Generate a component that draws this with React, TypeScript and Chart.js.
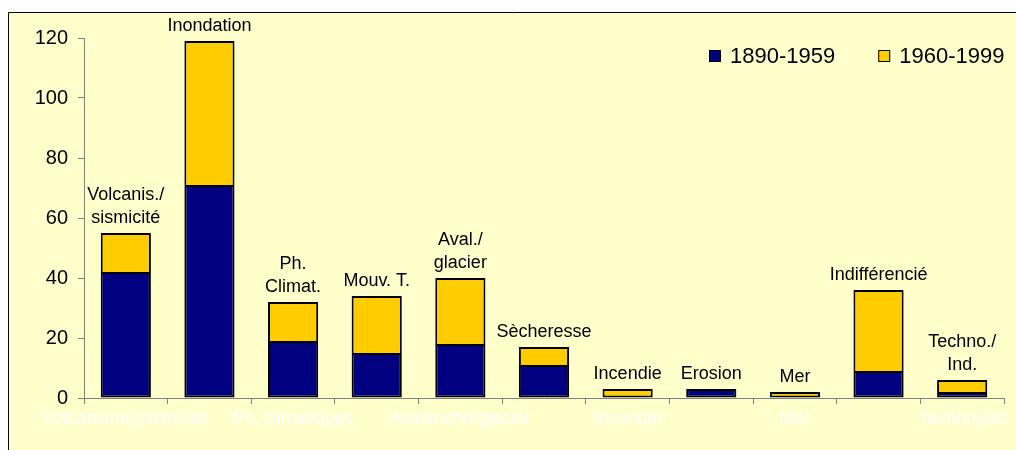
import React, { useEffect, useRef } from "react";
import { Chart, registerables } from "chart.js";

Chart.register(...registerables);

const categories = [
  "Volcanisme/sismicité",
  "Inondation",
  "Ph. climatiques",
  "Mouvements de terrain",
  "Avalanche/glacier",
  "Sècheresse",
  "Incendie",
  "Erosion",
  "Mer",
  "Indifférencié",
  "Techno/Ind",
];

const barLabels = [
  ["Volcanis./", "sismicité"],
  ["Inondation"],
  ["Ph.", "Climat."],
  ["Mouv. T."],
  ["Aval./", "glacier"],
  ["Sècheresse"],
  ["Incendie"],
  ["Erosion"],
  ["Mer"],
  ["Indifférencié"],
  ["Techno./", "Ind."],
];

const seriesNames = ["1890-1959", "1960-1999"];
const values1890 = [42, 71, 19, 15, 18, 11, 0, 3, 0, 9, 2];
const values1960 = [13, 48, 13, 19, 22, 6, 3, 0, 2, 27, 4];
const yTicks = [0, 20, 40, 60, 80, 100, 120];

const BLUE = "#000080";
const YELLOW = "#FFCC00";
const FONT = "Arial, 'Liberation Sans', sans-serif";

export default function App() {
  const ref = useRef<HTMLCanvasElement | null>(null);

  useEffect(() => {
    if (!ref.current) return;
    document.body.style.overflow = "hidden";

    const background = {
      id: "bg",
      beforeDraw(chart: any) {
        const { ctx, width, height } = chart;
        ctx.save();
        ctx.fillStyle = "#FFFFFF";
        ctx.fillRect(0, 0, width, height);
        ctx.fillStyle = "#FFFFCC";
        ctx.fillRect(8, 12, width - 8, height - 12);
        ctx.strokeStyle = "#000000";
        ctx.lineWidth = 1;
        ctx.beginPath();
        ctx.moveTo(8.5, height);
        ctx.lineTo(8.5, 12.5);
        ctx.lineTo(width, 12.5);
        ctx.stroke();
        ctx.restore();
      },
    };

    const labelsAbove = {
      id: "labelsAbove",
      afterDatasetsDraw(chart: any) {
        const { ctx } = chart;
        const y = chart.scales.y;
        const meta0 = chart.getDatasetMeta(0);
        ctx.save();
        ctx.fillStyle = "#000000";
        ctx.font = `18px ${FONT}`;
        ctx.textAlign = "center";
        ctx.textBaseline = "alphabetic";
        barLabels.forEach((lines, i) => {
          const total = values1890[i] + values1960[i];
          const x = meta0.data[i].x;
          const top = y.getPixelForValue(total);
          let base = top - 10;
          for (let k = lines.length - 1; k >= 0; k--) {
            ctx.fillText(lines[k], x, base);
            base -= 23;
          }
        });
        ctx.restore();
      },
    };

    const legendPlugin = {
      id: "customLegend",
      afterDraw(chart: any) {
        const { ctx, chartArea } = chart;
        ctx.save();
        ctx.font = `22px ${FONT}`;
        ctx.textBaseline = "alphabetic";
        ctx.textAlign = "left";
        const colors = [BLUE, YELLOW];
        const box = 12;
        const gapText = 9;
        const gapItem = 43;
        const widths = seriesNames.map((s) => ctx.measureText(s).width);
        let total = 0;
        widths.forEach((w, i) => {
          total += box + gapText + w + (i < widths.length - 1 ? gapItem : 0);
        });
        let x = Math.round(chartArea.right - total);
        const baseline = 63;
        seriesNames.forEach((s, i) => {
          ctx.fillStyle = colors[i];
          ctx.fillRect(x, 50, box, box);
          ctx.strokeStyle = "#000000";
          ctx.lineWidth = 1;
          ctx.strokeRect(x + 0.5, 50.5, box - 1, box - 1);
          ctx.fillStyle = "#000000";
          ctx.fillText(s, x + box + gapText, baseline);
          x += box + gapText + widths[i] + gapItem;
        });
        ctx.restore();
      },
    };

    const chart = new Chart(ref.current, {
      type: "bar",
      data: {
        labels: categories,
        datasets: [
          {
            label: seriesNames[0],
            data: values1890,
            backgroundColor: BLUE,
            borderColor: "#000000",
            borderWidth: 2,
            borderSkipped: false,
            barPercentage: 0.6,
            categoryPercentage: 1,
          },
          {
            label: seriesNames[1],
            data: values1960,
            backgroundColor: YELLOW,
            borderColor: "#000000",
            borderWidth: (c: any) => ({
              top: 2,
              left: 2,
              right: 2,
              bottom: values1890[c.dataIndex] > 0 ? 0 : 2,
            }),
            borderSkipped: false,
            barPercentage: 0.6,
            categoryPercentage: 1,
          },
        ],
      },
      options: {
        animation: false,
        responsive: false,
        devicePixelRatio: 1,
        layout: { padding: { top: 38, right: 12, left: 0, bottom: 0 } },
        plugins: {
          legend: { display: false },
          tooltip: { enabled: false },
        },
        scales: {
          x: {
            stacked: true,
            offset: true,
            grid: {
              display: true,
              drawOnChartArea: false,
              drawTicks: true,
              tickLength: 6,
              color: "#808080",
              offset: true,
            },
            border: { color: "#808080", width: 1 },
            ticks: {
              color: "#FFFFFF",
              font: { family: FONT, size: 18 },
              padding: 4,
              maxRotation: 0,
              autoSkip: false,
              callback: (_v: any, i: number) => (i % 2 === 0 ? categories[i] : ""),
            },
            afterFit: (scale: any) => {
              scale.height = 52;
            },
          },
          y: {
            stacked: true,
            min: yTicks[0],
            max: yTicks[yTicks.length - 1],
            afterBuildTicks: (scale: any) => {
              scale.ticks = yTicks.map((v) => ({ value: v }));
            },
            grid: {
              display: true,
              drawOnChartArea: false,
              drawTicks: true,
              tickLength: 6,
              color: "#808080",
            },
            border: { color: "#808080", width: 1 },
            ticks: {
              color: "#000000",
              font: { family: FONT, size: 20 },
              padding: 10,
            },
            afterFit: (scale: any) => {
              scale.width = 84;
            },
          },
        },
      },
      plugins: [background, labelsAbove, legendPlugin],
    });

    return () => chart.destroy();
  }, []);

  return (
    <div style={{ position: "fixed", left: 0, top: 0, width: 1016, height: 450 }}>
      <canvas ref={ref} width={1016} height={450} style={{ display: "block", width: 1016, height: 450 }} />
    </div>
  );
}
